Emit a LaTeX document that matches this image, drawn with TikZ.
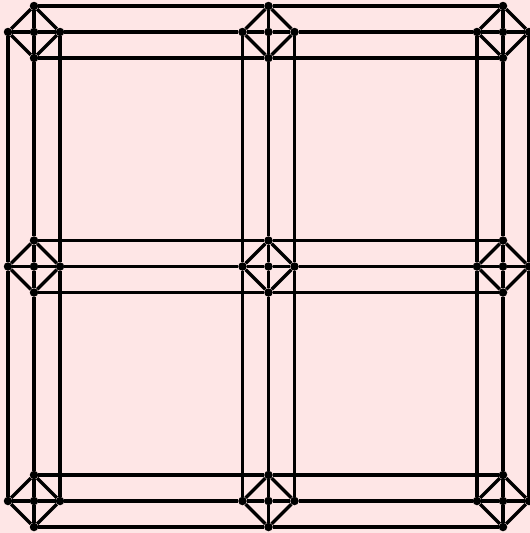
\documentclass[tikz,border=0pt]{standalone}
\definecolor{bgpink}{RGB}{254,230,230}
\begin{document}
\begin{tikzpicture}[x=1pt,y=-1pt,
  dot/.style={circle,fill=black,inner sep=0pt,minimum size=8.5pt},
  edge/.style={line width=3.3pt,black}]
\fill[bgpink] (0,0) rectangle (530,533);
\useasboundingbox (0,0) rectangle (530,533);
\foreach \i/\x in {0/34,1/268.5,2/503}{
  \foreach \j/\y in {0/32,1/266.5,2/501}{
    \node[dot] (c\i\j) at (\x,\y) {};
    \node[dot] (t\i\j) at (\x,\y-26) {};
    \node[dot] (b\i\j) at (\x,\y+26) {};
    \node[dot] (l\i\j) at (\x-26,\y) {};
    \node[dot] (r\i\j) at (\x+26,\y) {};
  }
}
\foreach \i in {0,1,2}{
  \foreach \j in {0,1,2}{
    \draw[edge] (c\i\j) -- (t\i\j);
    \draw[edge] (c\i\j) -- (b\i\j);
    \draw[edge] (c\i\j) -- (l\i\j);
    \draw[edge] (c\i\j) -- (r\i\j);
    \draw[edge] (t\i\j) -- (l\i\j) -- (b\i\j) -- (r\i\j) -- (t\i\j);
  }
}
\foreach \i/\k in {0/1,1/2}{
  \foreach \j in {0,1,2}{
    \draw[edge] (t\i\j) -- (t\k\j);
    \draw[edge] (r\i\j) -- (l\k\j);
    \draw[edge] (b\i\j) -- (b\k\j);
    \draw[edge] (l\j\i) -- (l\j\k);
    \draw[edge] (b\j\i) -- (t\j\k);
    \draw[edge] (r\j\i) -- (r\j\k);
  }
}
\end{tikzpicture}
\end{document}
